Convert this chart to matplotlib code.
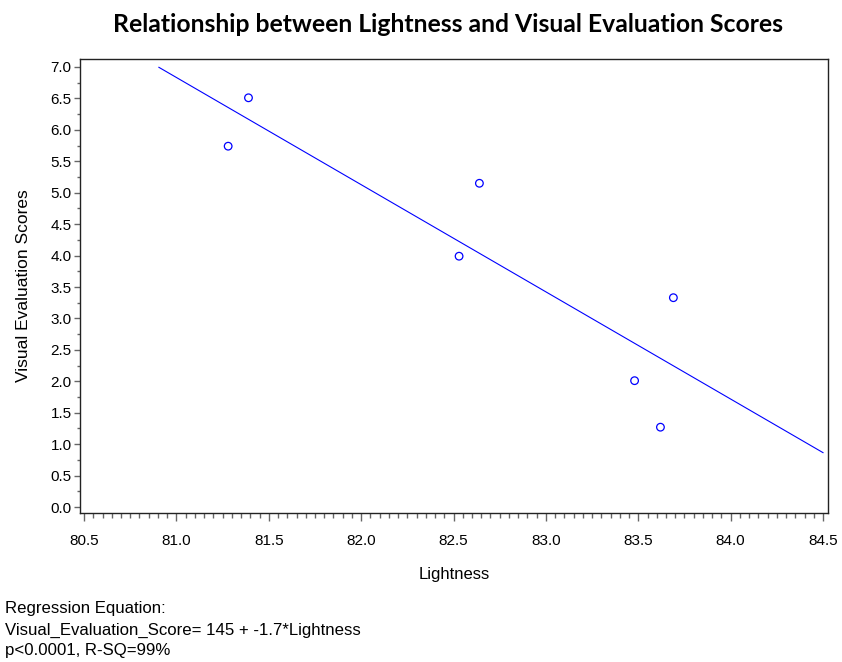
import numpy as np
import matplotlib
matplotlib.use("Agg")
import matplotlib.pyplot as plt
from matplotlib.ticker import MultipleLocator, FormatStrFormatter

# observed points
lightness = [81.28, 81.39, 82.53, 82.64, 83.48, 83.62, 83.69]
scores = [5.74, 6.51, 3.99, 5.15, 2.01, 1.27, 3.33]

# span over which the fitted line is drawn
fit_span = [80.905, 84.5]

title = "Relationship between Lightness and Visual Evaluation Scores"
footer = ["Regression Equation:",
          "Visual_Evaluation_Score= 145 + -1.7*Lightness",
          "p<0.0001, R-SQ=99%"]

plt.rcParams['font.family'] = ['Liberation Sans', 'DejaVu Sans']

fig = plt.figure(figsize=(8.42, 6.62), dpi=100)
ax = fig.add_axes([80 / 842, 1 - 513 / 662, 748 / 842, 454 / 662])

# least squares fit
slope, intercept = np.polyfit(lightness, scores, 1)
line_x = np.array(fit_span)
ax.plot(line_x, intercept + slope * line_x, color='#0000ff', lw=0.8)

ax.scatter(lightness, scores, s=30, facecolor='none', edgecolor='#0000ff', linewidths=0.9, zorder=3)

ax.set_xlim(80.478, 84.527)
ax.set_ylim(-0.095, 7.127)
ax.xaxis.set_major_locator(MultipleLocator(0.5))
ax.xaxis.set_minor_locator(MultipleLocator(0.05))
ax.yaxis.set_major_locator(MultipleLocator(0.5))
ax.yaxis.set_minor_locator(MultipleLocator(0.25))
ax.xaxis.set_major_formatter(FormatStrFormatter('%.1f'))
ax.yaxis.set_major_formatter(FormatStrFormatter('%.1f'))

ax.tick_params(axis='x', which='major', length=5.8, width=1, color='#666666', labelsize=11, pad=9)
ax.tick_params(axis='x', which='minor', length=3.6, width=1, color='#666666')
ax.tick_params(axis='y', which='major', length=4.3, width=1, color='#666666', labelsize=11, pad=1.8)
ax.tick_params(axis='y', which='minor', length=2.2, width=1, color='#666666')
for sp in ax.spines.values():
    sp.set_color('#222222')
    sp.set_linewidth(1)

ax.set_xlabel("Lightness", fontsize=12)
ax.set_ylabel("Visual Evaluation Scores", fontsize=12.5)
ax.xaxis.set_label_coords(0.5, -0.119)
ax.yaxis.set_label_coords(-0.066, 0.5)

fig.text(448 / 842, 1 - 24 / 662, title, ha='center', va='center', fontsize=17.8,
         fontweight='bold', family=['Lato', 'DejaVu Sans'])

for i, line in enumerate(footer):
    fig.text(5 / 842, 1 - (609 + i * 21) / 662, line, ha='left', va='center', fontsize=12.1)

fig.savefig("out.png", dpi=100)
